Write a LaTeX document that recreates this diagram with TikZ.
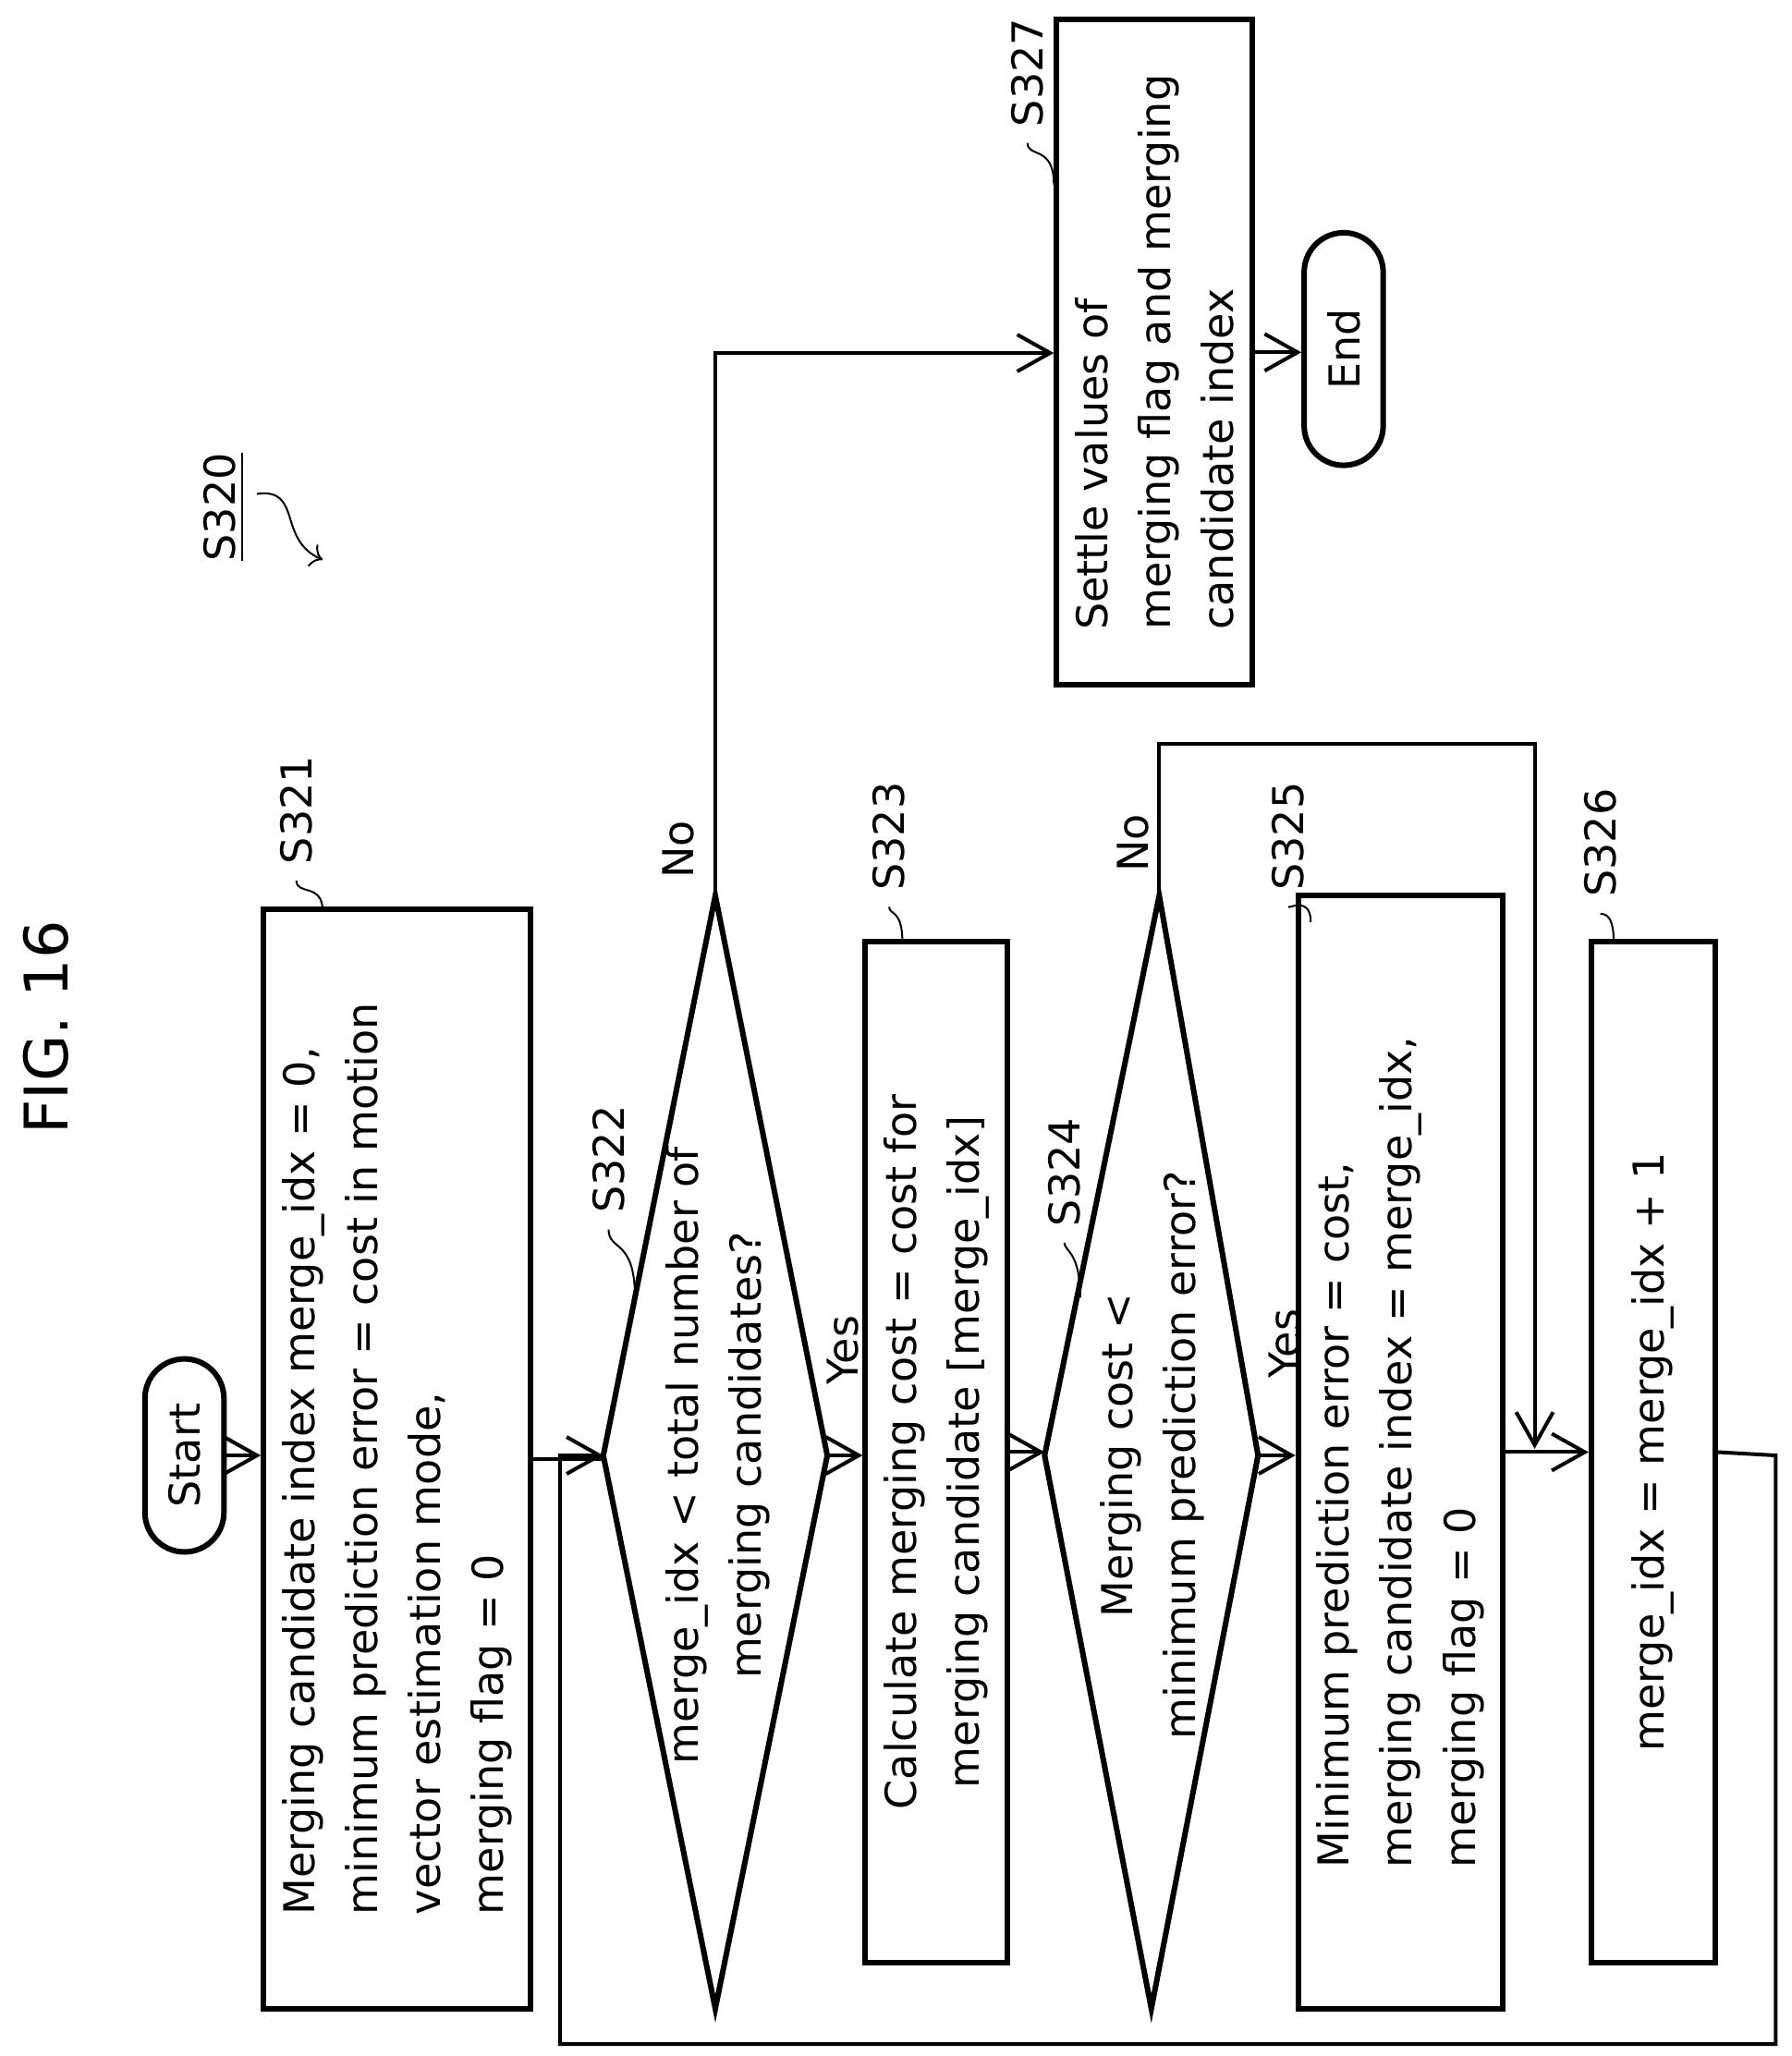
\documentclass[tikz,border=0pt]{standalone}
\usepackage{fontspec}
\setmainfont{DejaVu Sans}
\usetikzlibrary{arrows.meta,shapes.misc}
\tikzset{
  box/.style={draw,very thick,rotate=90,inner sep=4pt,align=center,font=\fontsize{9.2}{13.6}\selectfont},
  term/.style={draw,very thick,rounded rectangle,rotate=90,font=\fontsize{9.2}{12}\selectfont},
  txt/.style={rotate=90,font=\fontsize{9.2}{13.6}\selectfont,align=center},
  lbl/.style={rotate=90,font=\fontsize{9.2}{12}\selectfont},
  arr/.style={thick,-{Straight Barb[length=2.5mm,width=2.8mm]}}
}
\begin{document}
\begin{tikzpicture}
  \useasboundingbox (0,0) rectangle (13.6,-15.61);
  \node[rotate=90,font=\fontsize{13}{15}\selectfont] (fig) at (0.35,-7.8) {FIG. 16};
  % S320
  \node[lbl] (l320) at (1.7,-3.85) {\underline{S320}};
  \draw[->,thin] (1.95,-3.75) .. controls (2.3,-3.7) and (2.1,-4.1) .. (2.45,-4.25);
  % nodes
  \node[term,minimum width=1.7cm,minimum height=0.6cm] (start) at (1.4,-11.05) {Start};
  \node[box,minimum width=8.35cm,minimum height=1.77cm,align=left] (s321) at (3.015,-11.075)
    {Merging candidate index merge\_idx = 0,\\minimum prediction error = cost in motion\\vector estimation mode,\\merging flag = 0};
  \draw[very thick] (4.58,-11.05) coordinate (d1l) -- (5.43,-6.8) coordinate (d1t)
    -- (6.28,-11.05) coordinate (d1r) -- (5.43,-15.25) -- cycle;
  \node[txt] (s322) at (5.45,-11.05) {merge\_idx < total number of\\merging candidates?};
  \node[box,minimum width=7.75cm,minimum height=1.02cm] (s323) at (7.11,-11.025)
    {Calculate merging cost = cost for\\merging candidate [merge\_idx]};
  \draw[very thick] (7.93,-11.05) coordinate (d2l) -- (8.8,-6.8) coordinate (d2t)
    -- (9.55,-11.05) coordinate (d2r) -- (8.74,-15.25) -- cycle;
  \node[txt] (s324) at (8.75,-11.05) {Merging cost <\\minimum prediction error?};
  \node[box,minimum width=8.45cm,minimum height=1.4cm,align=left] (s325) at (10.63,-11.025)
    {Minimum prediction error = cost,\\merging candidate index = merge\_idx,\\merging flag = 0};
  \node[box,minimum width=7.75cm,minimum height=0.94cm] (s326) at (12.55,-11.025)
    {merge\_idx = merge\_idx + 1};
  \node[box,minimum width=5.05cm,minimum height=1.37cm,align=left] (s327) at (8.765,-2.675)
    {Settle values of\\merging flag and merging\\candidate index};
  \node[term,minimum width=2.0cm,minimum height=0.6cm] (end) at (10.2,-2.65) {End};
  % connectors
  \draw[arr] (start.south) -- (start.south -| s321.north);
  \draw[thick] (s321.south) -- (s321.south -| d1l);
  \draw[arr] (d1r) -- (d1r -| s323.north);
  \draw[arr] (s323.south) -- (s323.south -| d2l);
  \draw[arr] (d2r) -- (d2r -| s325.north);
  \draw[arr] (s325.south) -- (s325.south -| s326.north);
  \draw[arr] (s326.south) -- (13.48,-11.05) -- (13.48,-15.52) -- (4.25,-15.52) -- (4.25,-11.05) -- (d1l);
  \draw[arr] (d1t) -- (5.43,-2.68) -- (5.43,-2.68 -| s327.north);
  \draw[arr] (d2t) -- (8.8,-5.65) -- (11.65,-5.65) -- (11.65,-11.0);
  \draw[arr] (s327.south) -- (s327.south -| end.north);
  % yes / no
  \node[lbl] (no1) at (5.15,-6.45) {No};
  \node[lbl] (yes1) at (6.4,-10.25) {Yes};
  \node[lbl] (no2) at (8.6,-6.4) {No};
  \node[lbl] (yes2) at (9.75,-10.2) {Yes};
  % step labels
  \node[lbl] (l321) at (2.25,-6.15) {S321};
  \draw[thin] (l321.west) .. controls (2.25,-6.8) and (2.45,-6.7) .. (2.45,-6.92);
  \node[lbl] (l322) at (4.62,-8.8) {S322};
  \draw[thin] (l322.west) .. controls (4.62,-9.5) and (4.82,-9.4) .. (4.82,-9.85);
  \node[lbl] (l323) at (6.75,-6.35) {S323};
  \draw[thin] (l323.west) .. controls (6.75,-6.95) and (6.85,-6.9) .. (6.85,-7.15);
  \node[lbl] (l324) at (8.08,-8.9) {S324};
  \draw[thin] (l324.west) .. controls (8.08,-9.5) and (8.2,-9.5) .. (8.2,-9.85);
  \node[lbl] (l325) at (9.78,-6.35) {S325};
  \draw[thin] (l325.west) .. controls (9.78,-6.9) and (9.95,-6.8) .. (9.95,-7.0);
  \node[lbl] (l326) at (12.15,-6.4) {S326};
  \draw[thin] (l326.west) .. controls (12.15,-6.95) and (12.25,-6.9) .. (12.25,-7.15);
  \node[lbl] (l327) at (7.8,-0.55) {S327};
  \draw[thin] (l327.west) .. controls (7.8,-1.2) and (8.0,-1.1) .. (8.0,-1.4);
\end{tikzpicture}
\end{document}
